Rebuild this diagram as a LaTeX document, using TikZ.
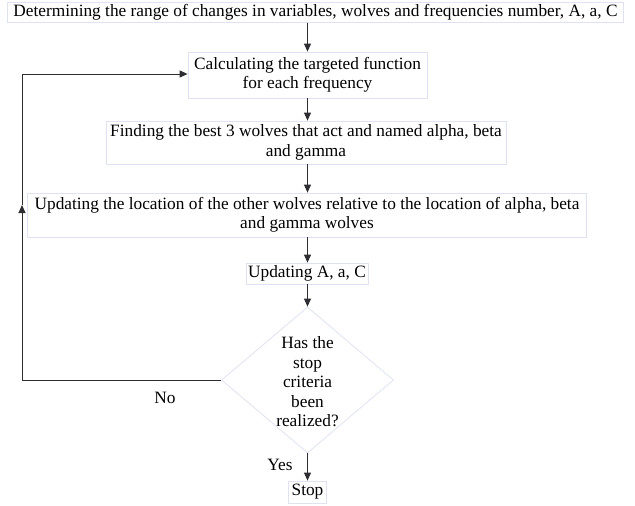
\documentclass[tikz,border=0pt]{standalone}
\usepackage{fontspec}
\setmainfont{Liberation Serif}
\usetikzlibrary{shapes.geometric,arrows.meta}
\definecolor{boxline}{RGB}{224,226,242}
\definecolor{conn}{RGB}{45,45,50}
\tikzset{
  every node/.style={font=\fontsize{17.3}{19.5}\selectfont, text=black, inner sep=0pt},
  box/.style={draw=boxline, line width=0.8pt, rectangle, align=center},
  dia/.style={draw=boxline, line width=0.8pt, diamond, aspect=1.18, align=center},
  conn/.style={draw=conn, line width=1pt},
  arr/.style={conn, -{Triangle[length=8pt,width=7pt]}},
  lbl/.style={font=\fontsize{17.3}{19.5}\selectfont}
}
\begin{document}
\begin{tikzpicture}[x=1pt,y=-1pt]
\useasboundingbox (0,0) rectangle (635,506);
\node[box, minimum width=616, minimum height=20] (b1) at (315.5,12.5) {Determining the range of changes in variables, wolves and frequencies number, A, a, C};
\node[box, minimum width=239, minimum height=46] (b2) at (307.5,75) {Calculating the targeted function\\for each frequency};
\node[box, minimum width=400, minimum height=43] (b3) at (306,142.5) {Finding the best 3 wolves that act and named alpha, beta\\and gamma};
\node[box, minimum width=559, minimum height=44] (b4) at (307,215) {Updating the location of the other wolves relative to the location of alpha, beta\\and gamma wolves};
\node[box, minimum width=122, minimum height=21] (b5) at (307,273.5) {Updating A, a, C};
\node[dia, minimum width=172, minimum height=146] (d) at (307.5,380) {};
\node[align=center] (dt) at (307.5,382) {Has the\\stop\\criteria\\been\\realized?};
\node[box, minimum width=38, minimum height=22] (s) at (307.5,492) {Stop};
\coordinate (lb) at (22,380);
\coordinate (lm) at (22,205);
\coordinate (lt) at (22,74);
\draw[arr] (b2.north |- b1.south) -- (b2.north);
\draw[arr] (b2.south) -- (b2.south |- b3.north);
\draw[arr] (b2.south |- b3.south) -- (b2.south |- b4.north);
\draw[arr] (b2.south |- b4.south) -- (b2.south |- b5.north);
\draw[arr] (b2.south |- b5.south) -- (d.north);
\draw[arr] (d.south) -- (s.north);
\draw[arr] (d.west) -- (lb) -- (lm);
\draw[arr] (lm) -- (lt) -- (lt -| b2.west);
\node[lbl] (no) at (165,398) {No};
\node[lbl] (yes) at (280,465) {Yes};
\end{tikzpicture}
\end{document}
